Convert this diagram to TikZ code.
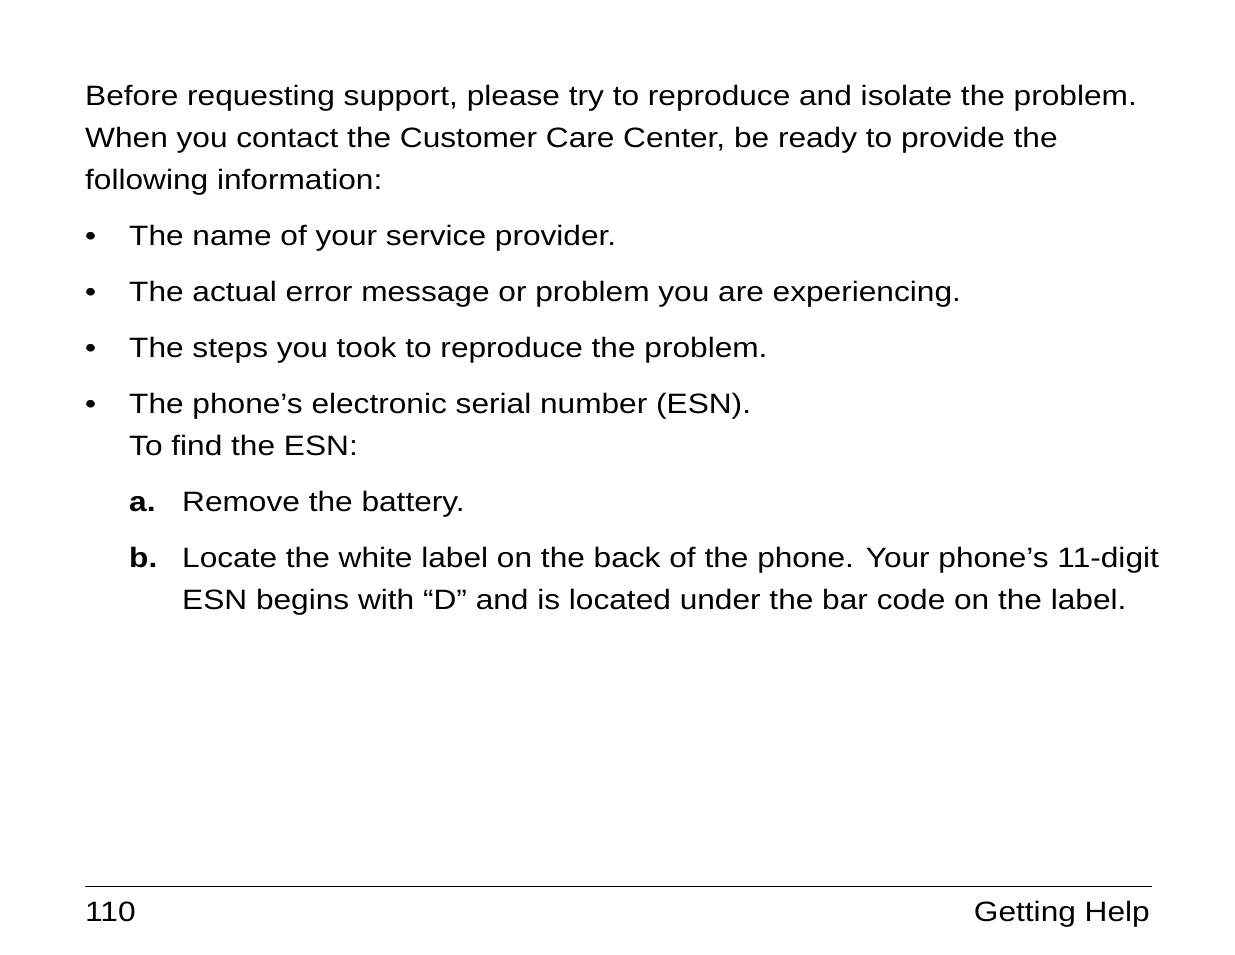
\documentclass[tikz,border=0pt]{standalone}
\usepackage{fontspec}
\setmainfont[FakeStretch=1.13]{Liberation Sans}
\begin{document}
\begin{tikzpicture}[x=1pt,y=-1pt,
  every node/.style={inner sep=0pt, anchor=base west, font=\fontsize{28}{34}\selectfont}]
\useasboundingbox (0,0) rectangle (1235,954);
\node (p1) at (85,105) {Before requesting support, please try to reproduce and isolate the problem.};
\node (p2) at (85,147) {When you contact the Customer Care Center, be ready to provide the};
\node (p3) at (85,189) {following information:};
\foreach \y/\t [count=\i] in {245/The name of your service provider.,
  301/The actual error message or problem you are experiencing.,
  357/The steps you took to reproduce the problem.,
  413/The phone’s electronic serial number (ESN).}{
  \node (dot\i) at (85,\y) {\textbullet};
  \node (item\i) at (129,\y) {\t};
}
\node (find) at (129,455) {To find the ESN:};
\node (la) at (129,511) {\textbf{a.}};
\node (sa) at (182,511) {Remove the battery.};
\node (lb) at (129,567) {\textbf{b.}};
\node (sb1) at (182,567) {Locate the white label on the back of the phone. Your phone’s 11-digit};
\node (sb2) at (182,609) {ESN begins with “D” and is located under the bar code on the label.};
\draw[line width=1pt] (85,886) coordinate (rl) -- (1152,886) coordinate (rr);
\node (page) at (85,921) {110};
\node[anchor=base east] (title) at (1150,921) {Getting Help};
\end{tikzpicture}
\end{document}
